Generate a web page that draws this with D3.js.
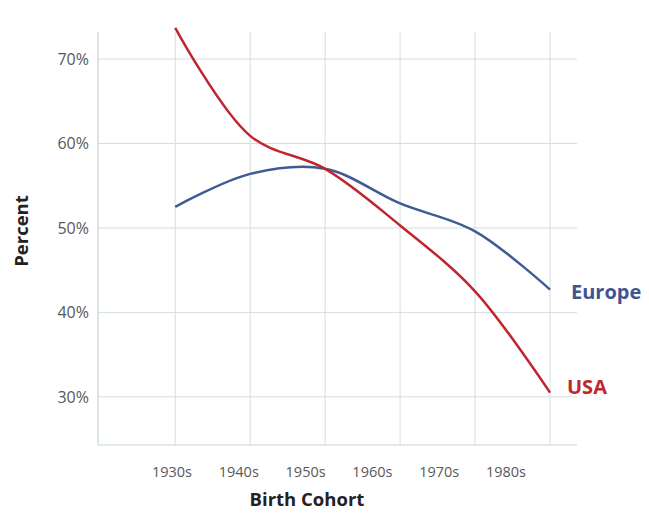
<!DOCTYPE html>
<html><head><meta charset="utf-8">
<script src="https://cdn.jsdelivr.net/npm/d3@7"></script>
<style>body{margin:0;background:#fff}svg{display:block}</style>
</head><body>
<svg id="c" width="649" height="513"></svg>
<script>
const categories = ["1930s","1940s","1950s","1960s","1970s","1980s"];
const usa    = [73.7, 60.9, 57.0, 50.3, 42.5, 30.5];
const europe = [52.5, 56.4, 57.0, 52.9, 49.6, 42.7];
const yTicks = [30, 40, 50, 60, 70];

const svg = d3.select("#c");
const font = "'Open Sans', Lato, sans-serif";
const x = d3.scaleLinear().domain([-1.03, 5.36]).range([98, 577]);
const xLab = d3.scalePoint().domain(categories).range([172, 506]);
const y = d3.scaleLinear().domain([24.3, 73.2]).range([445, 32]);

// vertical gridlines
svg.append("g").selectAll("line").data(categories).join("line")
  .attr("x1",(d,i)=>x(i)).attr("x2",(d,i)=>x(i))
  .attr("y1",y(73.2)).attr("y2",y(24.3))
  .attr("stroke","#d6dcdf").attr("stroke-width",1);
// horizontal gridlines
svg.append("g").selectAll("line").data(yTicks).join("line")
  .attr("x1",x(-1.03)).attr("x2",x(5.36))
  .attr("y1",d=>y(d)).attr("y2",d=>y(d))
  .attr("stroke","#d6dcdf").attr("stroke-width",1);
// axes lines
svg.append("line").attr("x1",x(-1.03)).attr("x2",x(-1.03)).attr("y1",y(73.2)).attr("y2",y(24.3))
  .attr("stroke","#c5d6d8").attr("stroke-width",1.2);
svg.append("line").attr("x1",x(-1.03)).attr("x2",x(5.36)).attr("y1",y(24.3)).attr("y2",y(24.3))
  .attr("stroke","#c5d6d8").attr("stroke-width",1.2);

// y tick labels
svg.append("g").selectAll("text").data(yTicks).join("text")
  .attr("x",89).attr("y",d=>y(d)+6).attr("text-anchor","end")
  .attr("font-family",font).attr("font-size",16).attr("fill","#595959")
  .text(d=>d+"%");
// x tick labels
svg.append("g").selectAll("text").data(categories).join("text")
  .attr("x",d=>xLab(d)).attr("y",477).attr("text-anchor","middle")
  .attr("font-family",font).attr("font-size",14.5).attr("fill","#595959")
  .text(d=>d);

// axis titles
svg.append("text").attr("transform","translate(28,231) rotate(-90)")
  .attr("text-anchor","middle").attr("font-family",font).attr("font-weight","bold")
  .attr("font-size",18.5).attr("fill","#222").text("Percent");
svg.append("text").attr("x",307).attr("y",506).attr("text-anchor","middle")
  .attr("font-family",font).attr("font-weight","bold").attr("font-size",18.5).attr("fill","#222")
  .text("Birth Cohort");

const line = d3.line().x((d,i)=>x(i)).y(d=>y(d)).curve(d3.curveCatmullRom.alpha(0.5));
svg.append("path").datum(europe).attr("d",line).attr("fill","none")
  .attr("stroke","#3f5b96").attr("stroke-width",2.5);
svg.append("path").datum(usa).attr("d",line).attr("fill","none")
  .attr("stroke","#c0262d").attr("stroke-width",2.5);

svg.append("text").attr("x",571).attr("y",299)
  .attr("font-family",font).attr("font-weight","bold").attr("font-size",20).attr("fill","#3f5592").text("Europe");
svg.append("text").attr("x",567).attr("y",394)
  .attr("font-family",font).attr("font-weight","bold").attr("font-size",20).attr("fill","#c0262d").text("USA");
</script>
</body></html>
